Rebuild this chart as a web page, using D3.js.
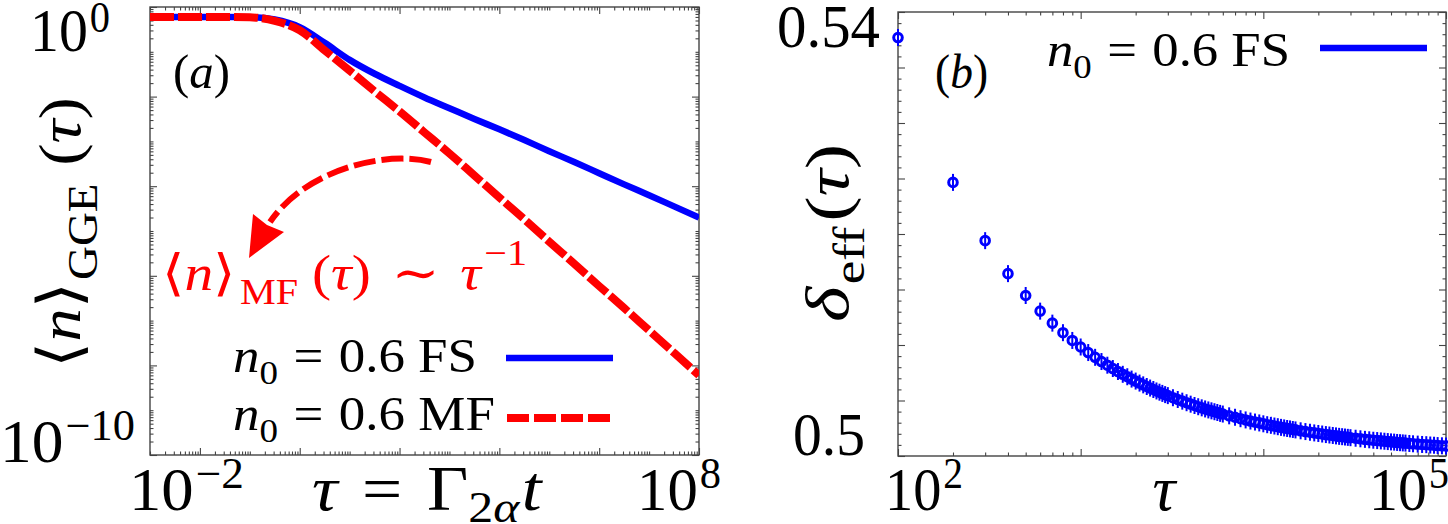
<!DOCTYPE html>
<html><head><meta charset="utf-8">
<script src="https://cdn.jsdelivr.net/npm/d3@7"></script>
<style>body{margin:0;background:#fff} svg{display:block} text{font-family:"Liberation Serif","DejaVu Serif",serif;fill:#000}</style>
</head><body><svg id="c" width="1448" height="524"></svg>
<script>
// ---------- data: panel (a) ----------
const logTauA = [-3,-2.5,-2,-1.5,-1,-0.5,0,0.5,1,1.5,2,2.5,3,3.5,4,4.5,5,5.5,6,6.5,7,7.5,8];
const logNFS  = [-0.222,-0.222,-0.222,-0.222,-0.226,-0.28,-0.45,-0.8,-1.18,-1.49,-1.76,-2.02,-2.26,-2.5,-2.73,-2.97,-3.22,-3.46,-3.71,-3.96,-4.2,-4.45,-4.70];
const logNMF  = [-0.222,-0.222,-0.222,-0.222,-0.23,-0.31,-0.52,-0.97,-1.42,-1.88,-2.33,-2.8,-3.27,-3.76,-4.25,-4.74,-5.24,-5.73,-6.23,-6.72,-7.22,-7.72,-8.22];
const xTickLabelsA = [{v:1e-2, e:"−2"}, {v:1e8, e:"8"}];
const yTickLabelsA = [{v:1, e:"0"}, {v:1e-10, e:"−10"}];
// ---------- data: panel (b) ----------
const tauB = [100,200,300,400,500,600,700,800,900,1000,1100,1200,1300,1400,1500,1600,1700,1800,1900,2000,2100,2200,2300,2400,2500,2600,2700,2800,2900,3000,
3200,3400,3600,3800,4000,4200,4400,4600,4800,5000,5200,5400,5600,5800,6000,
6500,7000,7500,8000,8500,9000,9500,10000,10500,11000,11500,12000,12500,13000,13500,14000,14500,15000,
16000,17000,18000,19000,20000,21000,22000,23000,24000,25000,26000,27000,28000,29000,30000,
32000,34000,36000,38000,40000,42000,44000,46000,48000,50000,52000,54000,56000,58000,60000,
63000,66000,70000,74000,78000,82000,86000,90000,95000,100000];
const deltaB = [0.53770,0.52465,0.51940,0.51643,0.51446,0.51305,0.51197,0.51111,0.51041,0.50982,0.50932,0.50889,0.50851,0.50818,0.50788,0.50761,0.50736,0.50714,0.50693,0.50675,0.50657,0.50641,0.50626,0.50612,0.50599,0.50586,0.50575,0.50564,0.50553,0.50544,
0.50525,0.50509,0.50494,0.50480,0.50467,0.50455,0.50444,0.50434,0.50424,0.50415,0.50407,0.50399,0.50392,0.50384,0.50378,
0.50362,0.50349,0.50336,0.50325,0.50315,0.50306,0.50298,0.50290,0.50282,0.50276,0.50270,0.50264,0.50258,0.50253,0.50248,0.50244,0.50239,0.50235,
0.50227,0.50220,0.50214,0.50208,0.50203,0.50198,0.50193,0.50189,0.50185,0.50181,0.50177,0.50174,0.50171,0.50168,0.50165,
0.50160,0.50155,0.50150,0.50146,0.50142,0.50139,0.50136,0.50133,0.50130,0.50127,0.50125,0.50122,0.50120,0.50118,0.50116,
0.50113,0.50110,0.50107,0.50104,0.50102,0.50099,0.50097,0.50094,0.50092,0.50090];
const xTickLabelsB = [{v:1e2, e:"2"}, {v:1e5, e:"5"}];
const yTickLabelsB = [{v:0.54, t:"0.54"}, {v:0.5, t:"0.5"}];

const BLUE = "#0000ff", RED = "#ff0000", FRAME = "#444";
const svg = d3.select("#c");
const A = {l:150, r:699, t:7, b:455};
const B = {l:898, r:1446, t:12, b:456};
const xA = d3.scaleLog().domain([1e-3,1e8]).range([A.l,A.r]);
const yA = d3.scaleLog().domain([1e-10,1]).range([A.b,A.t]);
const xB = d3.scaleLog().domain([1e2,1e5]).range([B.l,B.r]);
const yB = d3.scaleLinear().domain([0.5,0.54]).range([B.b,B.t]);

function logMinor(d0, d1, majorEvery){
  const maj=[], min=[];
  for(let d=d0; d<=d1; d++){
    if(((d % majorEvery)+majorEvery)%majorEvery===0) maj.push(Math.pow(10,d)); else min.push(Math.pow(10,d));
    if(d<d1) for(let k=2;k<=9;k++) min.push(k*Math.pow(10,d));
  }
  return {maj,min};
}
function frameAxes(P, xs, ys, xt, yt){
  const g = svg.append("g");
  const mk = (axisFn, scale, vals, size, tr) => {
    const a = g.append("g").attr("transform", tr)
      .call(axisFn(scale).tickValues(vals).tickSize(size).tickSizeOuter(0).tickFormat(""));
    a.select(".domain").remove();
    a.selectAll("line").attr("stroke", FRAME).attr("stroke-width", 1.1);
  };
  mk(d3.axisBottom, xs, xt.maj, -7, `translate(0,${P.b})`);
  mk(d3.axisBottom, xs, xt.min, -3.5, `translate(0,${P.b})`);
  mk(d3.axisTop, xs, xt.maj, -7, `translate(0,${P.t})`);
  mk(d3.axisTop, xs, xt.min, -3.5, `translate(0,${P.t})`);
  mk(d3.axisLeft, ys, yt.maj, -7, `translate(${P.l},0)`);
  mk(d3.axisLeft, ys, yt.min, -3.5, `translate(${P.l},0)`);
  mk(d3.axisRight, ys, yt.maj, -7, `translate(${P.r},0)`);
  mk(d3.axisRight, ys, yt.min, -3.5, `translate(${P.r},0)`);
  g.append("rect").attr("x",P.l).attr("y",P.t).attr("width",P.r-P.l).attr("height",P.b-P.t)
    .attr("fill","none").attr("stroke",FRAME).attr("stroke-width",1.4);
}

// math-ish text: parts = [text, style, dx]; style flags: i, sub, sup
function mathText(parts, size, o){
  const g = svg.append("g");
  const t = g.append("text").attr("x",0).attr("y",0).attr("font-size",size);
  if(o.color) t.style("fill", o.color);
  let shift = 0;
  const subS = (o.subShift!=null?o.subShift:0.28)*size, supS = (o.supShift!=null?o.supShift:0.4)*size;
  parts.forEach(([s, st, dx]) => {
    st = st || "";
    const ts = t.append("tspan").text(s);
    let target = 0;
    if(st.includes("sub")) target = subS;
    if(st.includes("sup")) target = -supS;
    if(target !== shift){ ts.attr("dy", target-shift); shift = target; }
    if(dx) ts.attr("dx", dx);
    if(st.includes("sub")||st.includes("sup")) ts.attr("font-size", size*(o.small||0.7));
    if(st.includes("i")) ts.attr("font-style","italic");
  });
  const bb = t.node().getBBox();
  const s = o.w ? o.w/bb.width : 1;
  const w = bb.width*s;
  let off = -bb.x*s;
  if(o.anchor==="end") off -= w; else if(o.anchor==="middle") off -= w/2;
  t.attr("x", off/s);
  g.attr("transform", `translate(${o.x},${o.y})` + (o.rot?` rotate(${o.rot})`:"") + ` scale(${s},1)`);
  return g;
}

// ---------------- panel (a) ----------------
const ta = logMinor(-3, 8, 2);
const tya = logMinor(-10, 0, 2);
frameAxes(A, xA, yA, ta, tya);
svg.append("clipPath").attr("id","clipA").append("rect")
  .attr("x",A.l).attr("y",A.t).attr("width",A.r-A.l).attr("height",A.b-A.t);
const ptsFS = logTauA.map((l,i)=>[Math.pow(10,l), Math.pow(10,logNFS[i])]);
const ptsMF = logTauA.map((l,i)=>[Math.pow(10,l), Math.pow(10,logNMF[i])]);
const lineA = d3.line().x(d=>xA(d[0])).y(d=>yA(d[1])).curve(d3.curveMonotoneX);
const ga = svg.append("g").attr("clip-path","url(#clipA)");
ga.append("path").attr("d", lineA(ptsFS)).attr("fill","none").attr("stroke",BLUE).attr("stroke-width",6.5);
ga.append("path").attr("d", lineA(ptsMF)).attr("fill","none").attr("stroke",RED).attr("stroke-width",8).attr("stroke-dasharray","24,4");

const fsT = 62;
const tick = (e) => [["10",""],[e,"sup",2]];
// tick labels (a)
mathText(tick(xTickLabelsA[0].e), fsT, {x:xA(xTickLabelsA[0].v)-71, y:510, w:115, supShift:0.35});
mathText(tick(xTickLabelsA[1].e), fsT, {x:xA(xTickLabelsA[1].v)-62, y:510, w:84, supShift:0.35});
mathText(tick(yTickLabelsA[0].e), fsT, {x:30, y:yA(yTickLabelsA[0].v)+44, w:80, supShift:0.3});
mathText(tick(yTickLabelsA[1].e), fsT, {x:0, y:yA(yTickLabelsA[1].v)+7, w:135, supShift:0.36});
// axis labels (a)
mathText([["τ","i"],["=","",22],["Γ","",22],["2","sub"],["α","sub i"],["t","i",2]], 64, {x:312, y:510, w:232, subShift:0.18});
mathText([["⟨",""],["n","i"],["⟩",""],["GGE","sub",2],["(","",16],["τ","i"],[")",""]], 60, {x:80, y:368, w:271, rot:-90, subShift:0.28});
mathText([["(",""],["a","i"],[")",""]], 48, {x:173, y:88, w:57});
// legend (a)
mathText([["n","i"],["0","sub"],["=","",14],["0.6","",14],["FS","",12]], 48, {x:233, y:372, w:244, subShift:0.25});
mathText([["n","i"],["0","sub"],["=","",14],["0.6","",14],["MF","",12]], 48, {x:233, y:430, w:262, subShift:0.25});
svg.append("line").attr("x1",506).attr("x2",613).attr("y1",358).attr("y2",358).attr("stroke",BLUE).attr("stroke-width",6.5);
svg.append("line").attr("x1",507).attr("x2",615).attr("y1",418).attr("y2",418).attr("stroke",RED).attr("stroke-width",8).attr("stroke-dasharray","22,5");
// annotation
svg.append("path").attr("d","M431,162 C385,150 305,170 270,222").attr("fill","none")
  .attr("stroke",RED).attr("stroke-width",6).attr("stroke-dasharray","22,6");
svg.append("path").attr("d","M249,258 L253,214 L267,225 L284,232 Z").attr("fill",RED);
mathText([["⟨",""],["n","i"],["⟩",""],["MF","sub",4],["(","",12],["τ","i"],[")",""],["∼","",18],["τ","i",18],["−1","sup",3]], 50, {x:162, y:290, w:365, color:RED, subShift:0.28, supShift:0.5});

// ---------------- panel (b) ----------------
const tb = logMinor(2, 5, 1);
const ybMaj = d3.range(0,9).map(i=>0.5+i*0.005);
const ybMin = d3.range(0,41).map(i=>0.5+i*0.001).filter(v=>Math.round(v*1000)%5!==0);
frameAxes(B, xB, yB, tb, {maj:ybMaj, min:ybMin});
const gb = svg.append("g");
const pts = tauB.map((t,i)=>[t, deltaB[i]]);
gb.selectAll("line.eb").data(pts).join("line").attr("class","eb")
  .attr("x1",d=>xB(d[0])).attr("x2",d=>xB(d[0]))
  .attr("y1",d=>yB(d[1])-8.5).attr("y2",d=>yB(d[1])+8.5)
  .attr("stroke",BLUE).attr("stroke-width",2);
gb.selectAll("circle").data(pts).join("circle")
  .attr("cx",d=>xB(d[0])).attr("cy",d=>yB(d[1])).attr("r",4.3)
  .attr("fill","none").attr("stroke",BLUE).attr("stroke-width",3);
// tick labels (b)
mathText(tick(xTickLabelsB[0].e), fsT, {x:xB(xTickLabelsB[0].v)-13, y:510, w:78, supShift:0.35});
mathText(tick(xTickLabelsB[1].e), fsT, {x:xB(xTickLabelsB[1].v)-77, y:510, w:80, supShift:0.35});
mathText([[yTickLabelsB[0].t,""]], fsT, {x:880, y:yB(yTickLabelsB[0].v)+35, w:103, anchor:"end"});
mathText([[yTickLabelsB[1].t,""]], fsT, {x:865, y:yB(yTickLabelsB[1].v)-1, w:72, anchor:"end"});
// axis labels (b)
mathText([["τ","i"]], 64, {x:1165, y:510, anchor:"middle"});
mathText([["δ","i"],["eff","sub",2],["(","",4],["τ","i"],[")",""]], 62, {x:848, y:322, w:178, rot:-90, subShift:0.25});
mathText([["(",""],["b","i"],[")",""]], 48, {x:935, y:88, w:53});
// legend (b)
mathText([["n","i"],["0","sub"],["=","",14],["0.6","",14],["FS","",12]], 48, {x:1047, y:66, w:243, subShift:0.25});
svg.append("line").attr("x1",1320).attr("x2",1427).attr("y1",48).attr("y2",48).attr("stroke",BLUE).attr("stroke-width",6.5);
</script></body></html>
